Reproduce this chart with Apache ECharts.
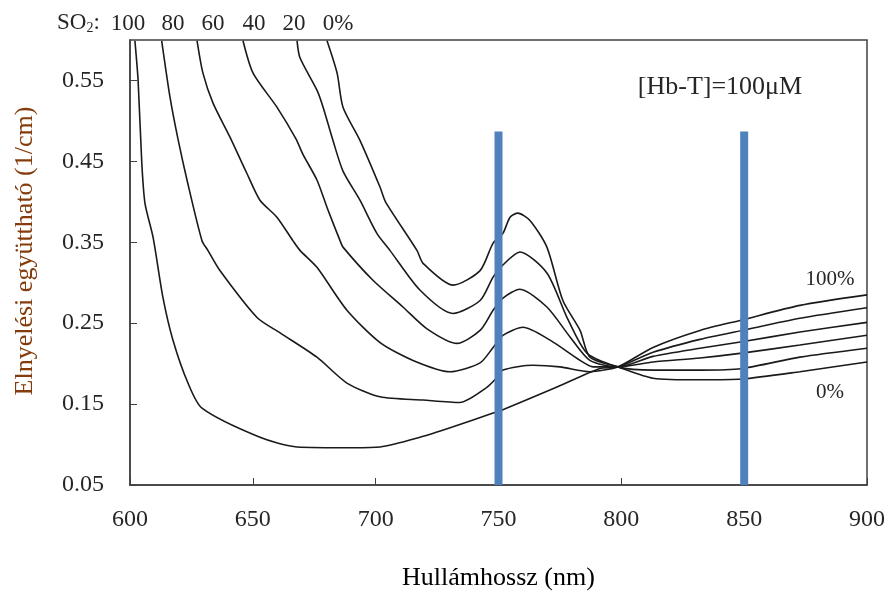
<!DOCTYPE html>
<html>
<head>
<meta charset="utf-8">
<script src="https://cdn.jsdelivr.net/npm/echarts@6/dist/echarts.min.js"></script>
<style>
html, body { margin: 0; padding: 0; background: #fff; }
#chart { width: 888px; height: 597px; }
</style>
</head>
<body>
<div id="chart"></div>
<script>
// [wavelength nm, absorption coefficient 1/cm], one list per SO2 level
var so2_100 = [[602.0,0.599],[603.3,0.550],[604.8,0.448],[606.1,0.398],[609.4,0.356],[613.4,0.282],[617.5,0.229],[623.6,0.176],[629.3,0.145],[652.9,0.109],[668,0.097],[690.8,0.096],[701.8,0.097],[718,0.109],[731.5,0.122],[747.8,0.139],[751.8,0.143],[773.8,0.171],[791.3,0.194],[798.6,0.196],[812.9,0.220],[832,0.241],[849.1,0.254],[872.7,0.272],[900,0.285]];
var so2_80 = [[612.9,0.599],[616.3,0.529],[619.5,0.478],[623.2,0.427],[629.3,0.352],[631.7,0.340],[636.6,0.315],[651.7,0.257],[661.1,0.238],[676.1,0.208],[688.3,0.176],[701.8,0.159],[719.3,0.155],[734.3,0.152],[745,0.170],[748.5,0.180],[751.8,0.192],[764,0.198],[775,0.196],[787.2,0.190],[798.6,0.196],[812.9,0.214],[832,0.230],[849.1,0.241],[872.7,0.256],[900,0.269]];
var so2_60 = [[627.3,0.599],[629.7,0.559],[633.8,0.522],[640.7,0.480],[647.6,0.435],[652.9,0.402],[659.8,0.381],[666.3,0.352],[669.2,0.340],[676.1,0.319],[688.3,0.266],[701.8,0.226],[715.2,0.204],[730.2,0.190],[742.5,0.201],[747.8,0.220],[751.8,0.235],[760,0.245],[771,0.229],[783.2,0.204],[788.5,0.196],[798.6,0.196],[812.9,0.209],[832,0.219],[849.1,0.227],[872.7,0.239],[900,0.251]];
var so2_40 = [[646,0.599],[650.1,0.559],[659.8,0.517],[667.5,0.478],[670.5,0.458],[676.1,0.427],[680.2,0.393],[685.5,0.352],[686.7,0.344],[698.9,0.303],[711.1,0.270],[720.9,0.243],[733.1,0.225],[742.5,0.241],[747.8,0.266],[751.8,0.281],[758.7,0.292],[769.7,0.270],[779.1,0.233],[787.2,0.204],[798.6,0.196],[812.9,0.202],[832,0.207],[849.1,0.213],[872.7,0.223],[900,0.235]];
var so2_20 = [[668,0.599],[669.2,0.578],[676.1,0.538],[678.6,0.517],[682.6,0.476],[686.7,0.438],[693.6,0.402],[700.5,0.361],[705.8,0.340],[718,0.291],[731.5,0.262],[742.5,0.278],[747.8,0.307],[751.8,0.322],[758.7,0.338],[769.7,0.312],[777.9,0.257],[786,0.213],[798.6,0.196],[812.9,0.192],[832,0.192],[849.1,0.194],[872.7,0.208],[900,0.219]];
var so2_0 = [[680.2,0.599],[684.3,0.559],[686.7,0.517],[693.6,0.476],[701.8,0.418],[704,0.400],[716.8,0.340],[719.3,0.324],[731.5,0.297],[742.5,0.315],[747.8,0.349],[751.8,0.361],[754.7,0.381],[757.9,0.386],[762.8,0.377],[769.7,0.344],[776.2,0.278],[783.2,0.241],[787.2,0.208],[798.6,0.196],[812.9,0.182],[832,0.180],[849.1,0.181],[872.7,0.190],[900,0.202]];

var curves = [so2_100, so2_80, so2_60, so2_40, so2_20, so2_0];
var curveNames = ['100%', '80%', '60%', '40%', '20%', '0%'];
var so2Labels = ['100', '80', '60', '40', '20', '0%'];

// blue marker lines at 750 and 850 nm
var markerWl = [750, 850];
var markerBottom = 0.05;
var markerTop = 0.487;

var serif = "'Liberation Serif', 'Times New Roman', serif";
var chart = echarts.init(document.getElementById('chart'));

var series = [];
for (var i = 0; i < curves.length; i++) {
    series.push({
        name: curveNames[i],
        type: 'line',
        data: curves[i],
        symbol: 'none',
        smooth: 0.25,
        z: 2,
        lineStyle: { color: '#1a1a1a', width: 1.6 }
    });
}
markerWl.forEach(function (w) {
    series.push({
        type: 'line',
        data: [[w, markerBottom], [w, markerTop]],
        symbol: 'none',
        z: 5,
        lineStyle: { color: '#4f81bd', width: 8 }
    });
});

var labelX = [128, 173, 213, 254, 294, 338];
var graphic = [
    {
        type: 'text', left: 57, top: 11,
        style: {
            text: '{b|SO}{s|2}{b|:}',
            rich: {
                b: { font: '23px ' + serif, fill: '#262626' },
                s: { font: '14px ' + serif, fill: '#262626', padding: [11, 0, 0, 0] }
            }
        }
    },
    {
        type: 'text', x: 25, y: 251, rotation: Math.PI / 2,
        style: {
            text: 'Elnyelési együttható (1/cm)',
            font: '26px ' + serif, fill: '#843c0c',
            align: 'center', verticalAlign: 'middle'
        }
    },
    {
        type: 'text', x: 720, y: 87,
        style: { text: '[Hb-T]=100μM', font: '26px ' + serif, fill: '#262626', align: 'center', verticalAlign: 'middle' }
    },
    {
        type: 'text', x: 830, y: 279,
        style: { text: '100%', font: '21px ' + serif, fill: '#262626', align: 'center', verticalAlign: 'middle' }
    },
    {
        type: 'text', x: 830, y: 392,
        style: { text: '0%', font: '21px ' + serif, fill: '#262626', align: 'center', verticalAlign: 'middle' }
    }
];
so2Labels.forEach(function (t, k) {
    graphic.push({
        type: 'text', x: labelX[k], y: 24,
        style: { text: t, font: '23px ' + serif, fill: '#262626', align: 'center', verticalAlign: 'middle' }
    });
});

var option = {
    animation: false,
    backgroundColor: '#fff',
    grid: {
        left: 130, right: 21, top: 40, bottom: 112,
        show: true, borderColor: '#404040', borderWidth: 1.5
    },
    xAxis: {
        type: 'value',
        min: 600, max: 900, interval: 50,
        name: 'Hullámhossz (nm)',
        nameLocation: 'middle',
        nameGap: 80,
        nameTextStyle: { fontFamily: serif, fontSize: 26, color: '#000' },
        axisLine: { lineStyle: { color: '#404040', width: 1.5 } },
        axisTick: { inside: true, length: 7, lineStyle: { color: '#404040' } },
        axisLabel: { fontFamily: serif, fontSize: 24, color: '#262626', margin: 23 },
        splitLine: { show: false }
    },
    yAxis: {
        type: 'value',
        min: 0.05, max: 0.6, interval: 0.1,
        axisLine: { show: true, lineStyle: { color: '#404040', width: 1.5 } },
        axisTick: { show: true, inside: true, length: 7, lineStyle: { color: '#404040' } },
        axisLabel: {
            fontFamily: serif, fontSize: 24, color: '#262626', margin: 26,
            showMaxLabel: false,
            formatter: function (v) { return v.toFixed(2); }
        },
        splitLine: { show: false }
    },
    graphic: graphic,
    series: series
};
chart.setOption(option);
</script>
</body>
</html>
